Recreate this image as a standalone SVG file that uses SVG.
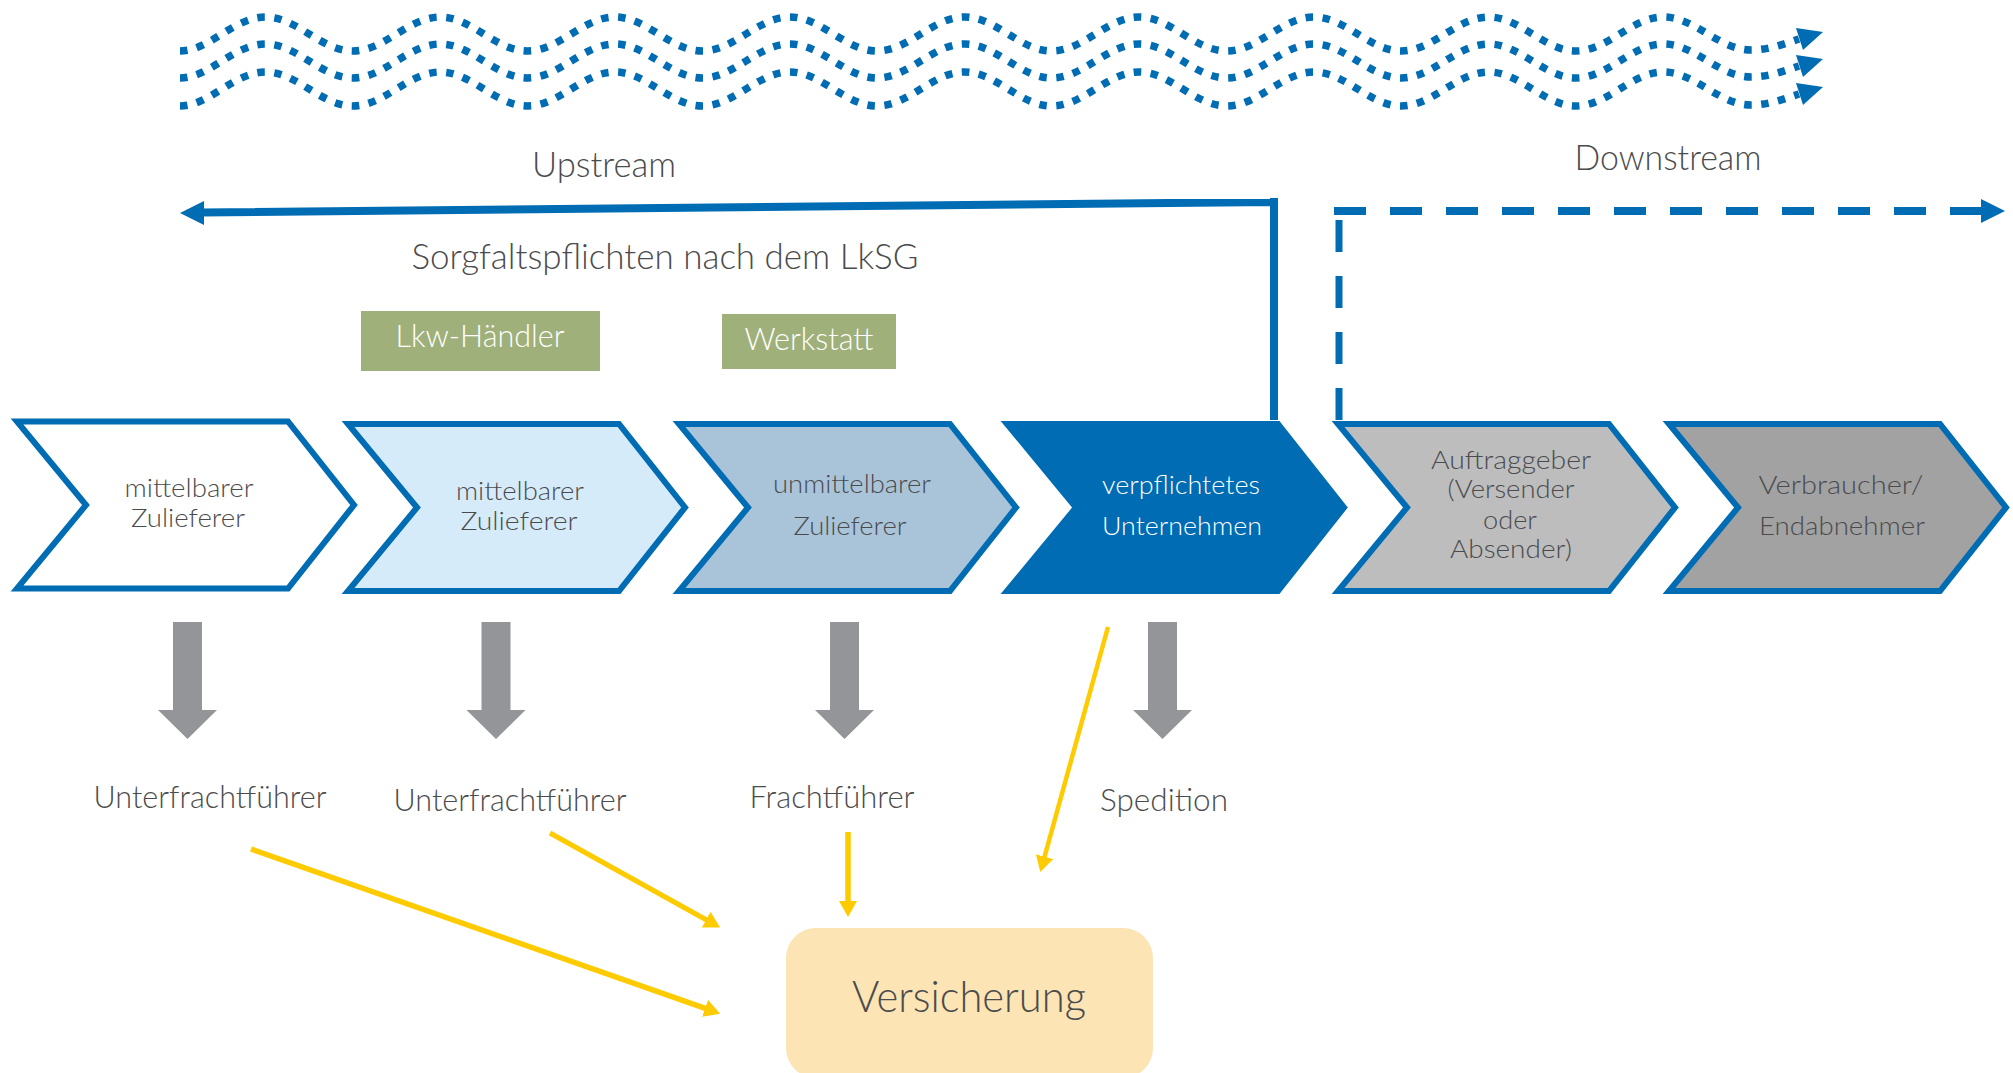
<svg xmlns="http://www.w3.org/2000/svg" width="2013" height="1073" viewBox="0 0 2013 1073">
  <style>
    text { font-family: Lato, "Open Sans", "Liberation Sans", sans-serif; font-weight: 300; fill: #4a4b4d; text-anchor: middle; }
    .head { font-size: 36px; }
    .chev { stroke: #006cb4; stroke-width: 6; stroke-linejoin: miter; }
    .ctext { font-size: 26px; }
    .white { fill: #ffffff; }
    .lbl { font-size: 31px; }
    .tag { fill: #9fb07a; }
    .tagtext { font-size: 31px; fill: #ffffff; }
    .wave { fill: none; stroke: #006cb4; stroke-width: 7.5; stroke-dasharray: 7.5 9.5; }
    .blue { fill: #006cb4; }
    .gray { fill: #939598; }
    .yel { stroke: #fecb00; fill: none; }
  </style>
  <defs>
    <marker id="yhead" viewBox="0 0 16 18" markerUnits="userSpaceOnUse" markerWidth="16" markerHeight="18" refX="1" refY="9" orient="auto">
      <path d="M0,0 L16,9 L0,18 Z" fill="#fecb00"/>
    </marker>
    <path id="wavepath" d="M180,51 C209.8,51 233.6,17 265.4,17 C297.2,17 321,51 352.8,51 C384.6,51 408.4,17 440.1,17 C471.9,17 495.7,51 527.5,51 C559.3,51 583.1,17 614.9,17 C646.7,17 670.5,51 702.3,51 C734.1,51 757.9,17 789.6,17 C821.4,17 845.2,51 877,51 C908.8,51 932.6,17 964.4,17 C996.2,17 1020,51 1051.8,51 C1083.6,51 1107.4,17 1139.1,17 C1170.9,17 1194.7,51 1226.5,51 C1258.3,51 1282.1,17 1313.9,17 C1345.7,17 1369.5,51 1401.3,51 C1433.1,51 1456.9,17 1488.6,17 C1520.4,17 1544.2,51 1576,51 C1607.8,51 1631.6,17 1663.4,17 C1695.2,17 1719,50 1750.8,50 C1768,50 1784,44 1799,39"/>
    <polygon id="wavehead" points="1796,28 1823,32 1803,50"/>
  </defs>

  <!-- flow lines at the top -->
  <g id="connectors">
    <g id="waves" class="blue">
      <use href="#wavepath" class="wave"/>
      <use href="#wavehead"/>
      <g transform="translate(0,27)">
        <use href="#wavepath" class="wave"/>
        <use href="#wavehead"/>
      </g>
      <g transform="translate(0,55)">
        <use href="#wavepath" class="wave"/>
        <use href="#wavehead"/>
      </g>
    </g>

    <!-- upstream: solid bracket from the company to the left -->
    <g id="upstream-arrow">
      <path d="M1274,420 L1274,202 L1278,202 M1278,202 L202,212.5" fill="none" stroke="#006cb4" stroke-width="8"/>
      <polygon class="blue" points="180,213 204,201 204,225"/>
    </g>

    <!-- downstream: dashed bracket to the right -->
    <g id="downstream-arrow">
      <line x1="1334" y1="211" x2="1982" y2="211" stroke="#006cb4" stroke-width="8" stroke-dasharray="32 24"/>
      <line x1="1339" y1="220" x2="1339" y2="420" stroke="#006cb4" stroke-width="7" stroke-dasharray="32 24"/>
      <polygon class="blue" points="2005,211 1981,199 1981,223"/>
    </g>

    <!-- gray arrows down to the carriers -->
    <g id="down-arrows" class="gray">
      <polygon points="173,622 202,622 202,710 217,710 187.5,739 158,710 173,710"/>
      <polygon points="481.5,622 510.5,622 510.5,710 525.5,710 496,739 466.5,710 481.5,710"/>
      <polygon points="830,622 859,622 859,710 874,710 844.5,739 815,710 830,710"/>
      <polygon points="1148,622 1177,622 1177,710 1192,710 1162.5,739 1133,710 1148,710"/>
    </g>

    <!-- yellow arrows into the insurance box -->
    <g id="insurance-arrows">
      <line class="yel" x1="251" y1="849" x2="706" y2="1008.7" stroke-width="5.5" marker-end="url(#yhead)"/>
      <line class="yel" x1="550" y1="833" x2="707" y2="920.2" stroke-width="5" marker-end="url(#yhead)"/>
      <line class="yel" x1="848" y1="832" x2="848" y2="902" stroke-width="5.5" marker-end="url(#yhead)"/>
      <line class="yel" x1="1108" y1="627" x2="1044.3" y2="857.6" stroke-width="4.5" marker-end="url(#yhead)"/>
    </g>
  </g>

  <!-- headings -->
  <g id="headings">
    <text class="head" x="604" y="177" textLength="144" lengthAdjust="spacingAndGlyphs">Upstream</text>
    <text class="head" x="1668" y="170" textLength="187" lengthAdjust="spacingAndGlyphs">Downstream</text>
    <text class="head" x="665" y="269" textLength="507" lengthAdjust="spacingAndGlyphs">Sorgfaltspflichten nach dem LkSG</text>
  </g>

  <g id="lkw-haendler">
    <rect class="tag" x="361" y="311" width="239" height="60"/>
    <text class="tagtext" x="480" y="347" textLength="169" lengthAdjust="spacingAndGlyphs">Lkw-Händler</text>
  </g>
  <g id="werkstatt">
    <rect class="tag" x="722" y="314" width="174" height="55"/>
    <text class="tagtext" x="809" y="350" textLength="129" lengthAdjust="spacingAndGlyphs">Werkstatt</text>
  </g>

  <!-- value chain chevrons -->
  <g id="chain-1">
    <polygon class="chev" fill="#ffffff" points="17,421.5 288,421.5 354,505 288,588.5 17,588.5 86,505"/>
    <text class="ctext" x="189" y="497" textLength="129" lengthAdjust="spacingAndGlyphs">mittelbarer</text>
    <text class="ctext" x="188" y="527" textLength="114" lengthAdjust="spacingAndGlyphs">Zulieferer</text>
  </g>
  <g id="chain-2">
    <polygon class="chev" fill="#d6ebfa" points="348,424 619,424 685,507.5 619,591 348,591 417,507.5"/>
    <text class="ctext" x="520" y="500" textLength="128" lengthAdjust="spacingAndGlyphs">mittelbarer</text>
    <text class="ctext" x="519" y="530" textLength="117" lengthAdjust="spacingAndGlyphs">Zulieferer</text>
  </g>
  <g id="chain-3">
    <polygon class="chev" fill="#a9c3d9" points="679,424 950,424 1016,507.5 950,591 679,591 748,507.5"/>
    <text class="ctext" x="852" y="493" textLength="158" lengthAdjust="spacingAndGlyphs">unmittelbarer</text>
    <text class="ctext" x="850" y="535" textLength="113" lengthAdjust="spacingAndGlyphs">Zulieferer</text>
  </g>
  <g id="chain-4">
    <polygon class="chev" fill="#006cb4" points="1007,424 1278,424 1344,507.5 1278,591 1007,591 1076,507.5"/>
    <text class="ctext white" x="1181" y="494" textLength="158" lengthAdjust="spacingAndGlyphs">verpflichtetes</text>
    <text class="ctext white" x="1182" y="535" textLength="160" lengthAdjust="spacingAndGlyphs">Unternehmen</text>
  </g>
  <g id="chain-5">
    <polygon class="chev" fill="#bdbdbd" points="1338,424 1609,424 1675,507.5 1609,591 1338,591 1407,507.5"/>
    <text class="ctext" x="1511" y="469" textLength="160" lengthAdjust="spacingAndGlyphs">Auftraggeber</text>
    <text class="ctext" x="1511" y="498" textLength="127" lengthAdjust="spacingAndGlyphs">(Versender</text>
    <text class="ctext" x="1510" y="529" textLength="54" lengthAdjust="spacingAndGlyphs">oder</text>
    <text class="ctext" x="1511" y="558" textLength="122" lengthAdjust="spacingAndGlyphs">Absender)</text>
  </g>
  <g id="chain-6">
    <polygon class="chev" fill="#a2a2a2" points="1669,424 1940,424 2006,507.5 1940,591 1669,591 1738,507.5"/>
    <text class="ctext" x="1841" y="494" textLength="165" lengthAdjust="spacingAndGlyphs">Verbraucher/</text>
    <text class="ctext" x="1842" y="535" textLength="166" lengthAdjust="spacingAndGlyphs">Endabnehmer</text>
  </g>

  <!-- carriers -->
  <g id="carrier-1"><text class="lbl" x="210" y="808" textLength="233" lengthAdjust="spacingAndGlyphs">Unterfrachtführer</text></g>
  <g id="carrier-2"><text class="lbl" x="510" y="811" textLength="233" lengthAdjust="spacingAndGlyphs">Unterfrachtführer</text></g>
  <g id="carrier-3"><text class="lbl" x="832" y="808" textLength="165" lengthAdjust="spacingAndGlyphs">Frachtführer</text></g>
  <g id="carrier-4"><text class="lbl" x="1164" y="811" textLength="128" lengthAdjust="spacingAndGlyphs">Spedition</text></g>

  <g id="versicherung">
    <rect x="786" y="928" width="367" height="150" rx="30" ry="30" fill="#fce4b4"/>
    <text x="969" y="1012" font-size="44" textLength="234" lengthAdjust="spacingAndGlyphs">Versicherung</text>
  </g>
</svg>
